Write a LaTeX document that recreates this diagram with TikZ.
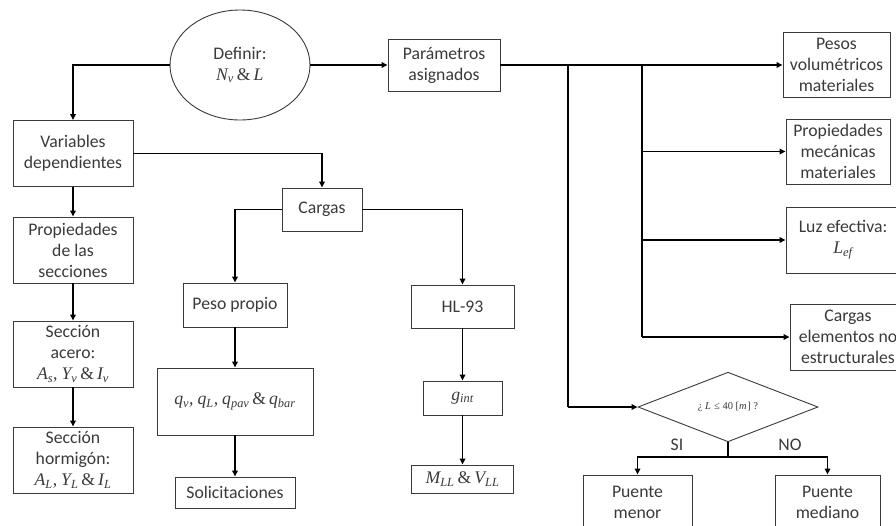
\documentclass[tikz,border=0pt]{standalone}
\usepackage[no-math]{fontspec}
\setmainfont{Carlito}
\newfontfamily\mf{Liberation Serif}
\usetikzlibrary{shapes.geometric,arrows.meta}
\definecolor{ink}{HTML}{3A3A3A}
% italic serif variable with optional subscript
\newcommand\iv[2]{{\mf\itshape #1\textsubscript{#2}}}
\newcommand\amp{{\mf\,\&\,}}
\begin{document}
\begin{tikzpicture}[x=1pt,y=-1pt,
  every node/.style={font=\fontsize{17.7}{21}\selectfont, text=ink, align=center, inner sep=0pt},
  box/.style 2 args={draw=ink, line width=0.9pt, rectangle, minimum width=#1, minimum height=#2},
  conn/.style={line width=1.6pt, -{Triangle[length=6pt,width=5.5pt]}},
  bus/.style={line width=2.3pt}]
\useasboundingbox (0,0) rectangle (896,525);
\clip (0,0) rectangle (896,525);
\fill[white] (0,0) rectangle (896,525);

% start and parameters
\node[ellipse, draw=ink, line width=0.9pt, minimum width=140pt, minimum height=110pt] (def) at (240,65) {Definir:\\\iv{N}{v}\amp\iv{L}{}};
\node[box={112}{52}] (param) at (444,65) {Parámetros\\asignados};

% left column
\node[box={120}{66}] (var) at (73,153.5) {Variables\\dependientes};
\node[box={120}{66}] (prop) at (73,250) {Propiedades\\de las\\secciones};
\node[box={120}{66}] (acero) at (73,354) {Sección\\acero:\\\iv{A}{s}{\mf,} \iv{Y}{v}\amp\iv{I}{v}};
\node[box={120}{66}] (horm) at (73,460) {Sección\\hormigón:\\\iv{A}{L}{\mf,} \iv{Y}{L}\amp\iv{I}{L}};

% loads
\node[box={80}{43}] (cargas) at (322,209.5) {Cargas};
\node[box={104}{44}] (peso) at (235,305) {Peso propio};
\node[box={156}{67}] (qb) at (235,401.5) {\iv{q}{v}{\mf,} \iv{q}{L}{\mf,} \iv{q}{pav}\amp\iv{q}{bar}};
\node[box={120}{31}] (sol) at (235,492.5) {Solicitaciones};
\node[box={103}{43}] (hl) at (462.5,306.5) {HL-93};
\node[box={79}{34}] (gint) at (462.5,398) {\iv{g}{int}};
\node[box={102}{28}] (mll) at (462.5,479) {\iv{M}{LL}\amp\iv{V}{LL}};

% assigned parameters
\node[box={107}{65}] (pesos) at (836.5,65) {Pesos\\volumétricos\\materiales};
\node[box={104}{65}] (mec) at (838,151.5) {Propiedades\\mecánicas\\materiales};
\node[box={114}{66}] (luz) at (843,240) {Luz efectiva:\\\iv{L}{ef}};
\node[box={116}{66}] (celem) at (848,337) {Cargas\\elementos no\\estructurales};

% span decision
\node[diamond, draw=ink, line width=0.9pt, minimum width=180pt, minimum height=66pt, font=\fontsize{10.5}{12}\selectfont] (dec) at (728,407) {{\mf ¿ \iv{L}{} ≤ 40 [\iv{m}{}] ?}};
\node (si) at (677,445) {SI};
\node (no) at (790,445) {NO};
\node[box={109}{54}] (pmenor) at (637.5,502) {Puente\\menor};
\node[box={105}{54}] (pmed) at (827.5,502) {Puente\\mediano};

% connectors
\draw[conn] (def.west) -| (var.north);
\draw[conn] (def.east) -- (param.west);
\draw[conn] (var.south) -- (prop.north);
\draw[conn] (prop.south) -- (acero.north);
\draw[conn] (acero.south) -- (horm.north);
\draw[conn] (var.east) -| (cargas.north);
\draw[conn] (cargas.west) -| (peso.north);
\draw[conn] (cargas.east) -| (hl.north);
\draw[conn] (peso.south) -- (qb.north);
\draw[conn] (qb.south) -- (sol.north);
\draw[conn] (hl.south) -- (gint.north);
\draw[conn] (gint.south) -- (mll.north);

\coordinate (j1) at (568,65);
\coordinate (j2) at (642,65);
\draw[bus, -{Triangle[length=6pt,width=5.5pt]}] (param.east) -- (pesos.west);
\draw[bus] (j1) -- (j1 |- dec.west);
\draw[bus] (j2) -- (j2 |- celem.west);
\draw[conn] (j1 |- dec.west) -- (dec.west);
\draw[conn] (j2 |- mec.west) -- (mec.west);
\draw[conn] (j2 |- luz.west) -- (luz.west);
\draw[conn] (j2 |- celem.west) -- (celem.west);

\coordinate (split) at (728,457);
\draw[line width=1.6pt] (dec.south) -- (split);
\draw[conn] (split) -| (pmenor.north);
\draw[conn] (split) -| (pmed.north);
\end{tikzpicture}
\end{document}
